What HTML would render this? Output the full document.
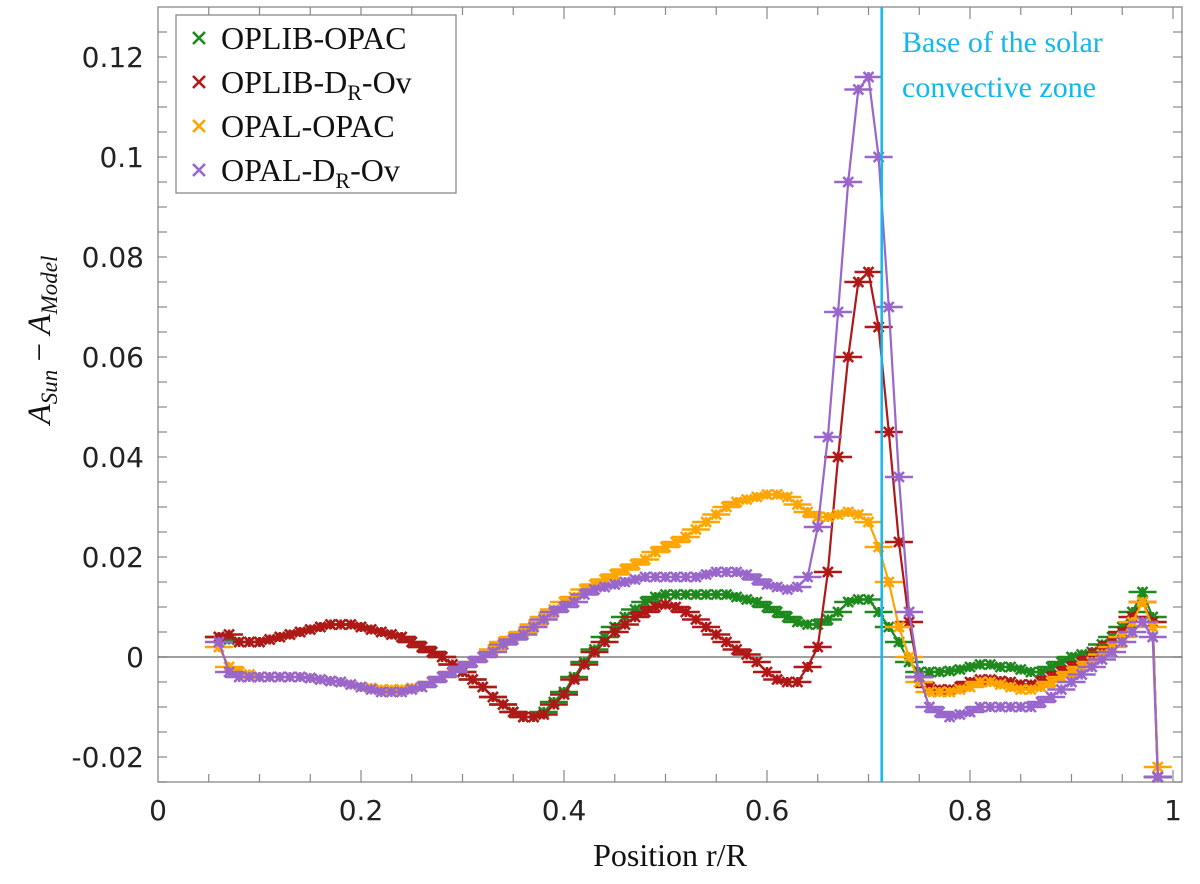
<!DOCTYPE html>
<html><head><meta charset="utf-8"><style>
html,body{margin:0;padding:0;background:#fff}
svg{display:block}
.tk{font-family:"DejaVu Sans","Liberation Sans",sans-serif;font-size:28px;fill:#222}
.sf{font-family:"Liberation Serif","DejaVu Serif",serif;fill:#111}
</style></head><body>
<svg id="chart" width="1200" height="884" viewBox="0 0 1200 884" xmlns="http://www.w3.org/2000/svg"></svg>
<script>
const xs = [0.06,0.07,0.08,0.09,0.10,0.11,0.12,0.13,0.14,0.15,0.16,0.17,0.18,0.19,0.20,0.21,0.22,0.23,0.24,0.25,0.26,0.27,0.28,0.29,0.30,0.31,0.32,0.33,0.34,0.35,0.36,0.37,0.38,0.39,0.40,0.41,0.42,0.43,0.44,0.45,0.46,0.47,0.48,0.49,0.50,0.51,0.52,0.53,0.54,0.55,0.56,0.57,0.58,0.59,0.60,0.61,0.62,0.63,0.64,0.65,0.66,0.67,0.68,0.69,0.70,0.71,0.72,0.73,0.74,0.75,0.76,0.77,0.78,0.79,0.80,0.81,0.82,0.83,0.84,0.85,0.86,0.87,0.88,0.89,0.90,0.91,0.92,0.93,0.94,0.95,0.96,0.97,0.98,0.985];
const oplibOpac = [.004,.0035,.003,.003,.003,.0035,.004,.0045,.005,.0055,.006,.0065,.0065,.0065,.006,.0055,.005,.0045,.004,.003,.002,.001,0,-.0015,-.003,-.0045,-.006,-.008,-.0095,-.011,-.012,-.012,-.011,-.009,-.007,-.004,-.001,.0015,.004,.006,.008,.0095,.011,.012,.0125,.0125,.0125,.0125,.0125,.0125,.0125,.012,.0115,.011,.010,.009,.008,.007,.0065,.0065,.0075,.009,.011,.0115,.0115,.009,.006,.003,-.001,-.003,-.003,-.003,-.0028,-.0025,-.002,-.0015,-.0015,-.002,-.002,-.0025,-.003,-.003,-.002,-.001,0,.0005,.001,.0025,.004,.006,.009,.013,.008,-.024];
const oplibDrOv = [.004,.0045,.003,.003,.003,.0035,.004,.0045,.005,.0055,.006,.0065,.0065,.0065,.006,.0055,.005,.0045,.004,.003,.002,.001,0,-.0015,-.003,-.0045,-.006,-.008,-.0095,-.011,-.012,-.012,-.0115,-.0095,-.0075,-.0045,-.0015,.001,.003,.005,.0065,.008,.009,.010,.0105,.010,.009,.0075,.006,.0045,.003,.0015,.0005,-.001,-.003,-.0045,-.005,-.005,-.002,.002,.017,.040,.060,.075,.077,.066,.045,.023,.007,-.004,-.006,-.0065,-.0065,-.006,-.005,-.0045,-.0045,-.0048,-.005,-.0055,-.0055,-.005,-.004,-.003,-.002,-.001,0,.0015,.003,.005,.008,.011,.007,-.024];
const opalOpac = [.002,-.002,-.003,-.0035,-.004,-.004,-.004,-.004,-.004,-.0042,-.0045,-.0048,-.005,-.0055,-.006,-.0062,-.0065,-.0065,-.0065,-.0062,-.006,-.005,-.004,-.003,-.002,-.001,0,.0015,.003,.004,.005,.0065,.008,.0095,.011,.012,.0135,.0145,.0155,.0165,.0175,.0185,.0195,.021,.022,.023,.024,.0255,.027,.0285,.030,.031,.0315,.032,.0325,.0325,.032,.0305,.029,.028,.028,.0285,.029,.0285,.027,.022,.015,.006,0,-.005,-.007,-.007,-.007,-.0065,-.006,-.005,-.005,-.0055,-.006,-.0065,-.0065,-.006,-.005,-.004,-.003,-.002,-.001,.0005,.002,.004,.007,.011,.006,-.022];
const opalDrOv = [.003,-.003,-.004,-.004,-.004,-.004,-.004,-.004,-.004,-.0042,-.0045,-.0048,-.005,-.0055,-.006,-.0065,-.007,-.007,-.007,-.0065,-.006,-.005,-.004,-.003,-.002,-.001,0,.001,.0025,.0035,.0045,.006,.0075,.009,.010,.011,.0125,.0135,.014,.0145,.015,.0155,.016,.016,.016,.016,.016,.016,.0165,.017,.017,.017,.0165,.0155,.0145,.014,.0135,.014,.016,.026,.044,.069,.095,.1135,.116,.100,.070,.036,.009,-.004,-.010,-.011,-.012,-.0115,-.011,-.010,-.010,-.010,-.010,-.010,-.010,-.009,-.008,-.0065,-.005,-.0035,-.002,-.0005,.001,.003,.005,.007,.004,-.024];
const seriesNames = ["OPLIB-OPAC","OPLIB-DR-Ov","OPAL-OPAC","OPAL-DR-Ov"];
const seriesColors = ["#1e8a1e","#b01818","#ffa500","#9966cc"];
const xTicks = [0,0.2,0.4,0.6,0.8,1];
const xTickLabels = ["0","0.2","0.4","0.6","0.8","1"];
const yTicks = [-0.02,0,0.02,0.04,0.06,0.08,0.1,0.12];
const yTickLabels = ["-0.02","0","0.02","0.04","0.06","0.08","0.1","0.12"];
const czBase = 0.713;

const NS="http://www.w3.org/2000/svg";
const svg=document.getElementById('chart');
const L=158,R=1182,T=7,B=782;
const X=v=>158+v*1015;
const Y=v=>657-v*5000;
function mk(tag,attrs,parent){const e=document.createElementNS(NS,tag);for(const k in attrs)e.setAttribute(k,attrs[k]);(parent||svg).appendChild(e);return e;}

const frame=mk('rect',{x:L,y:T,width:R-L,height:B-T,fill:'none',stroke:'#999','stroke-width':1.5});


for(let v=0.05;v<1.01;v+=0.05){const x=X(v);const big=Math.abs(v*5-Math.round(v*5))<1e-6;
 const t=mk('line',{x1:x,x2:x,y1:B,y2:B-(big?12:8),stroke:'#888','stroke-width':1.2});
 
 
 const t2=mk('line',{x1:x,x2:x,y1:T,y2:T+(big?12:8),stroke:'#888','stroke-width':1.2});
 
 }
for(let v=-0.025;v<=0.13;v+=0.005){const y=Y(v);if(y<T||y>B)continue;
 const t=mk('line',{x1:L,x2:L+9,y1:y,y2:y,stroke:'#888','stroke-width':1.2});
 
 
 const t2=mk('line',{x1:R,x2:R-9,y1:y,y2:y,stroke:'#888','stroke-width':1.2});
 
 }
xTicks.forEach((v,i)=>{const t=mk('text',{x:X(v),y:820,'text-anchor':'middle',class:'tk'});t.textContent=xTickLabels[i];
 
 });
yTicks.forEach((v,i)=>{const t=mk('text',{x:144,y:Y(v)+10,'text-anchor':'end',class:'tk'});t.textContent=yTickLabels[i];
 
 });
const zl=mk('line',{x1:L,x2:R,y1:Y(0),y2:Y(0),stroke:'#666','stroke-width':1.3});



const all=[oplibOpac,oplibDrOv,opalOpac,opalDrOv];
all.forEach((vals,si)=>{
 const g=mk('g',{});
 
 
 const c=seriesColors[si];
 const pts=xs.map((x,i)=>X(x).toFixed(1)+','+Y(vals[i]).toFixed(1)).join(' ');
 const pl=mk('polyline',{points:pts,fill:'none',stroke:c,'stroke-width':2.2},g);
 
 
 xs.forEach((x,i)=>{const px=X(x),py=Y(vals[i]);
  const p=mk('path',{d:`M${px-14},${py}H${px+14}M${px},${py-5}V${py+5}M${px-5},${py-5}L${px+5},${py+5}M${px-5},${py+5}L${px+5},${py-5}`,stroke:c,'stroke-width':2.6,fill:'none'},g);
  
  });
});
const vl=mk('line',{x1:X(czBase),x2:X(czBase),y1:T,y2:B,stroke:'#10b8ee','stroke-width':2.5});


const a1=mk('text',{x:902,y:52,class:'sf','font-size':30,style:'fill:#10b8ee'});a1.textContent='Base of the solar';


const a2=mk('text',{x:902,y:97,class:'sf','font-size':30,style:'fill:#10b8ee'});a2.textContent='convective zone';



const lg=mk('g',{});


mk('rect',{x:176,y:15,width:280,height:178,fill:'#fff',stroke:'#888','stroke-width':1.3},lg);
const labs=[['OPLIB-OPAC',''],['OPLIB-D','-Ov'],['OPAL-OPAC',''],['OPAL-D','-Ov']];
labs.forEach((l,i)=>{const y=38+i*44;const c=seriesColors[i];
 const e=mk('g',{},lg);
 
 
 mk('path',{d:`M${193},${y-6}L${205},${y+6}M${193},${y+6}L${205},${y-6}`,stroke:c,'stroke-width':2.6},e);
 const t=mk('text',{x:221,y:y+11,class:'sf','font-size':32},e);
 if(l[1]){t.innerHTML=l[0]+'<tspan dy="7" font-size="22">R</tspan><tspan dy="-7">'+l[1]+'</tspan>';}
 else t.textContent=l[0];
});
const xt=mk('text',{x:670,y:866,'text-anchor':'middle',class:'sf','font-size':32});xt.textContent='Position r/R';


const yt=mk('text',{x:0,y:0,'text-anchor':'middle',class:'sf','font-size':33,transform:'translate(50,340) rotate(-90)'});
yt.innerHTML='<tspan font-style="italic">A</tspan><tspan font-style="italic" font-size="23" dy="7">Sun</tspan><tspan dy="-7"> − </tspan><tspan font-style="italic">A</tspan><tspan font-style="italic" font-size="23" dy="7">Model</tspan>';


</script>
</body></html>
